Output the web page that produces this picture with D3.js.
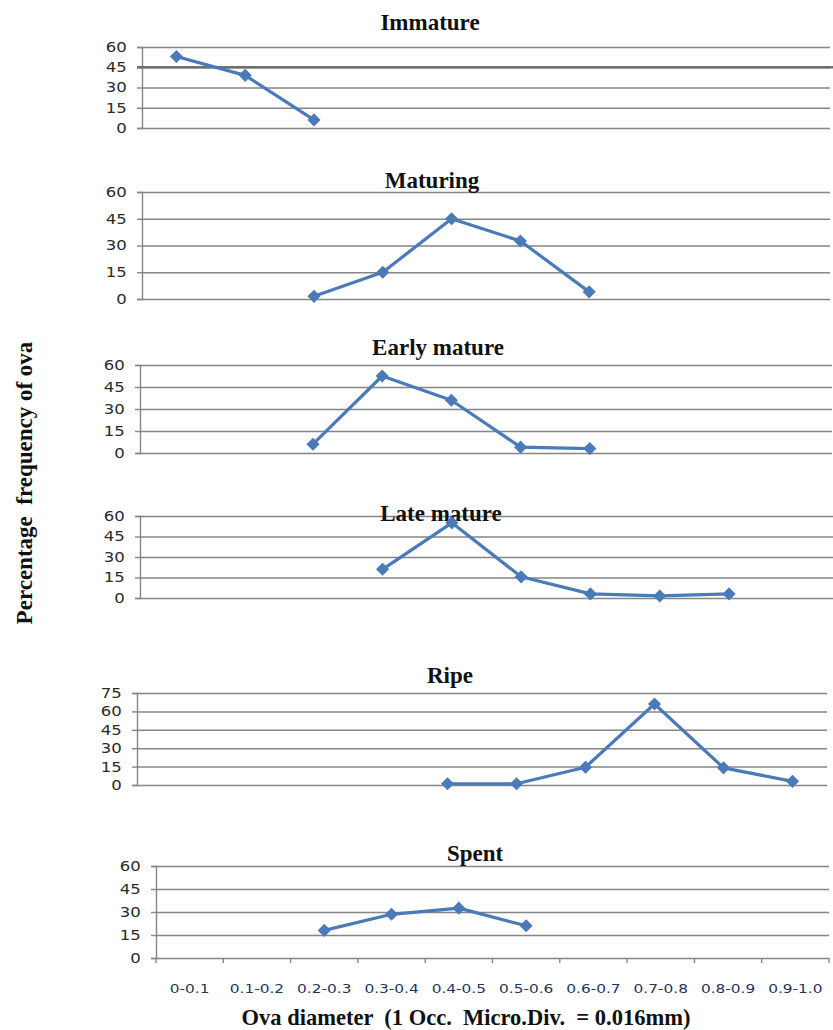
<!DOCTYPE html>
<html>
<head>
<meta charset="utf-8">
<script src="https://cdn.jsdelivr.net/npm/d3@7"></script>
<style>
	body { margin: 0; background: #fff; }
	svg { display: block; }
	text { white-space: pre; }
</style>
</head>
<body>
<svg id="chart"></svg>
<script>
// data
const categories = ["0-0.1", "0.1-0.2", "0.2-0.3", "0.3-0.4", "0.4-0.5", "0.5-0.6", "0.6-0.7", "0.7-0.8", "0.8-0.9", "0.9-1.0"];
const stages = ["Immature", "Maturing", "Early mature", "Late mature", "Ripe", "Spent"];

const immature    = [53, 39, 6, null, null, null, null, null, null, null];
const maturing    = [null, null, 1.5, 15, 45, 32.5, 4, null, null, null];
const earlyMature = [null, null, 6, 52.5, 36, 4, 3, null, null, null];
const lateMature  = [null, null, null, 21, 55, 15.5, 3, 1.5, 3, null];
const ripe        = [null, null, null, null, 1, 1, 14.5, 66, 14, 3];
const spent       = [null, null, 18, 28.5, 32.5, 21, null, null, null, null];

const ticks60 = [0, 15, 30, 45, 60];
const ticks75 = [0, 15, 30, 45, 60, 75];

const series = [immature, maturing, earlyMature, lateMature, ripe, spent];
const yTicks = [ticks60, ticks60, ticks60, ticks60, ticks75, ticks60];

// layout of each small panel (pixels)
const LAYOUT = [
	{ left: 142, right: 830, top: 47,  bottom: 128, titleX: 430, titleY: 30 },
	{ left: 142, right: 830, top: 192, bottom: 299, titleX: 432, titleY: 188 },
	{ left: 140, right: 832, top: 365, bottom: 453, titleX: 438, titleY: 355 },
	{ left: 140, right: 833, top: 516, bottom: 598, titleX: 441, titleY: 521 },
	{ left: 137, right: 827, top: 693, bottom: 785, titleX: 450, titleY: 683 },
	{ left: 156, right: 829, top: 866, bottom: 958, titleX: 475, titleY: 861 }
];

const WIDTH = 833;
const HEIGHT = 1030;
const LINE = "#4a7ab8";
const GRID = "#858585";
const SERIF = "'Liberation Serif', 'Times New Roman', serif";
const SANS = "'DejaVu Sans', Verdana, sans-serif";

const svg = d3.select("#chart")
	.attr("width", WIDTH)
	.attr("height", HEIGHT);

svg.append("rect")
	.attr("width", WIDTH)
	.attr("height", HEIGHT)
	.attr("fill", "#fff");

stages.forEach((name, p) => {
	const box = LAYOUT[p];
	const ticks = yTicks[p];
	const values = series[p];

	const x = d3.scaleBand(categories, [box.left, box.right]);
	const y = d3.scaleLinear([0, d3.max(ticks)], [box.bottom, box.top]);

	const g = svg.append("g");

	// y axis with gridlines
	g.append("g")
		.attr("transform", `translate(${box.left}, 0)`)
		.call(d3.axisLeft(y).tickValues(ticks).tickSize(5).tickPadding(8))
		.call(a => a.select(".domain").attr("stroke", GRID).attr("stroke-width", 1.4))
		.call(a => a.selectAll(".tick line").attr("stroke", GRID).attr("stroke-width", 1.4))
		.call(a => a.selectAll(".tick line").clone()
			.attr("x1", 0)
			.attr("x2", box.right - box.left)
			.attr("stroke", GRID)
			.attr("stroke-width", 1.5))
		.call(a => a.selectAll(".tick text")
			.attr("fill", "#2b2b2b")
			.attr("transform", "scale(1.18, 1)")
			.style("font-family", SANS)
			.style("font-size", "14px"));

	// the heavier 45 line on the first panel
	if (p === 0) {
		g.append("line")
			.attr("x1", box.left - 5)
			.attr("x2", WIDTH)
			.attr("y1", y(45))
			.attr("y2", y(45))
			.attr("stroke", "#707070")
			.attr("stroke-width", 2.6);
	}

	// title
	g.append("text")
		.attr("x", box.titleX)
		.attr("y", box.titleY)
		.attr("text-anchor", "middle")
		.style("font-family", SERIF)
		.style("font-weight", "bold")
		.style("font-size", "23px")
		.attr("fill", "#111")
		.text(name);

	// series line + diamond markers
	const pts = values.map((v, i) => ({ c: categories[i], v })).filter(d => d.v !== null);

	g.append("path")
		.datum(pts)
		.attr("fill", "none")
		.attr("stroke", LINE)
		.attr("stroke-width", 3.2)
		.attr("stroke-linejoin", "round")
		.attr("d", d3.line()
			.x(d => x(d.c) + x.bandwidth() / 2)
			.y(d => y(d.v)));

	g.selectAll(".marker")
		.data(pts)
		.join("path")
		.attr("class", "marker")
		.attr("transform", d => `translate(${x(d.c) + x.bandwidth() / 2}, ${y(d.v)})`)
		.attr("d", d3.symbol(d3.symbolDiamond2, 110))
		.attr("fill", LINE);

	// x axis only under the last panel
	if (p === stages.length - 1) {
		const xAxis = svg.append("g")
			.attr("transform", `translate(0, ${box.bottom})`);
		xAxis.append("g")
			.call(d3.axisBottom(x).tickSize(0).tickPadding(0))
			.call(a => a.select(".domain").remove())
			.call(a => a.selectAll(".tick text")
				.attr("x", 0)
				.attr("y", 35)
				.attr("dy", 0)
				.attr("transform", "scale(1.18, 1)")
				.attr("fill", "#23355e")
				.style("font-family", SANS)
				.style("font-size", "13px"));
		// boundary ticks
		xAxis.selectAll(".bound")
			.data(categories.concat([null]))
			.join("line")
			.attr("class", "bound")
			.attr("x1", (d, i) => i < categories.length ? x(d) : box.right)
			.attr("x2", (d, i) => i < categories.length ? x(d) : box.right)
			.attr("y1", 0)
			.attr("y2", 5)
			.attr("stroke", GRID)
			.attr("stroke-width", 1.4);
	}
});

// axis titles
svg.append("text")
	.attr("transform", "translate(32, 483) rotate(-90)")
	.attr("text-anchor", "middle")
	.style("font-family", SERIF)
	.style("font-weight", "bold")
	.style("font-size", "23px")
	.attr("fill", "#111")
	.text("Percentage  frequency of ova");

svg.append("text")
	.attr("x", 466)
	.attr("y", 1025)
	.attr("text-anchor", "middle")
	.style("font-family", SERIF)
	.style("font-weight", "bold")
	.style("font-size", "22.5px")
	.attr("fill", "#111")
	.text("Ova diameter  (1 Occ.  Micro.Div.  = 0.016mm)");
</script>
</body>
</html>
